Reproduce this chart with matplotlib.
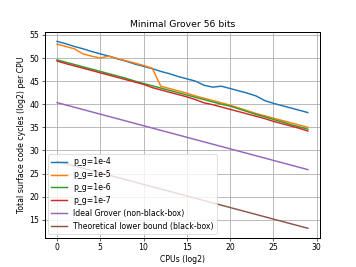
import matplotlib
matplotlib.use("Agg")
import matplotlib.pyplot as plt

cpus = list(range(30))

pg_1e4 = [53.6, 53.1, 52.5, 52.0, 51.4, 50.9, 50.4, 49.8, 49.3, 48.7,
          48.2, 47.7, 47.1, 46.6, 46.0, 45.5, 45.0, 44.1, 43.7, 43.9,
          43.4, 42.9, 42.4, 41.8, 40.8, 40.2, 39.7, 39.2, 38.7, 38.2]
pg_1e5 = [53.0, 52.5, 52.0, 50.9, 50.4, 50.0, 50.4, 49.9, 49.4, 48.9,
          48.4, 47.8, 43.9, 43.4, 42.9, 42.4, 41.8, 41.3, 40.8, 40.3,
          39.8, 39.2, 38.6, 38.0, 37.5, 37.0, 36.5, 36.0, 35.5, 35.0]
pg_1e6 = [49.6, 49.1, 48.6, 48.1, 47.6, 47.1, 46.6, 46.1, 45.6, 45.0,
          44.5, 44.0, 43.5, 43.0, 42.5, 42.0, 41.5, 41.0, 40.5, 40.0,
          39.6, 39.0, 38.4, 37.8, 37.3, 36.7, 36.2, 35.6, 35.1, 34.6]
pg_1e7 = [49.35, 48.8, 48.3, 47.8, 47.3, 46.8, 46.3, 45.8, 45.3, 44.8,
          44.3, 43.6, 43.1, 42.6, 42.1, 41.6, 41.0, 40.3, 39.9, 39.4,
          38.9, 38.4, 37.9, 37.4, 36.9, 36.3, 35.8, 35.3, 34.8, 34.2]
ideal = [40.35, 39.85, 39.35, 38.85, 38.35, 37.85, 37.35, 36.85, 36.35, 35.85,
         35.35, 34.85, 34.35, 33.85, 33.35, 32.85, 32.35, 31.85, 31.35, 30.85,
         30.35, 29.85, 29.35, 28.85, 28.35, 27.85, 27.35, 26.85, 26.35, 25.85]
lower = [27.65, 27.15, 26.65, 26.15, 25.65, 25.15, 24.65, 24.15, 23.65, 23.15,
         22.65, 22.15, 21.65, 21.15, 20.65, 20.15, 19.65, 19.15, 18.65, 18.15,
         17.65, 17.15, 16.65, 16.15, 15.65, 15.15, 14.65, 14.15, 13.65, 13.15]

plt.rcParams["lines.linewidth"] = 1.9
plt.rcParams["grid.linewidth"] = 1.1
plt.rcParams["axes.linewidth"] = 1.3

fig, ax = plt.subplots(1, figsize=(6.4, 4.8), dpi=55.625)
ax.plot(cpus, pg_1e4, label="p_g=1e-4")
ax.plot(cpus, pg_1e5, label="p_g=1e-5")
ax.plot(cpus, pg_1e6, label="p_g=1e-6")
ax.plot(cpus, pg_1e7, label="p_g=1e-7")
ax.plot(cpus, ideal, label="Ideal Grover (non-black-box)")
ax.plot(cpus, lower, label="Theoretical lower bound (black-box)")
ax.grid(True)
ax.set_title("Minimal Grover 56 bits")
ax.set_xlabel("CPUs (log2)")
ax.set_ylabel("Total surface code cycles (log2) per CPU")
ax.legend(loc="lower left")
fig.savefig("out.png", dpi=55.625)
